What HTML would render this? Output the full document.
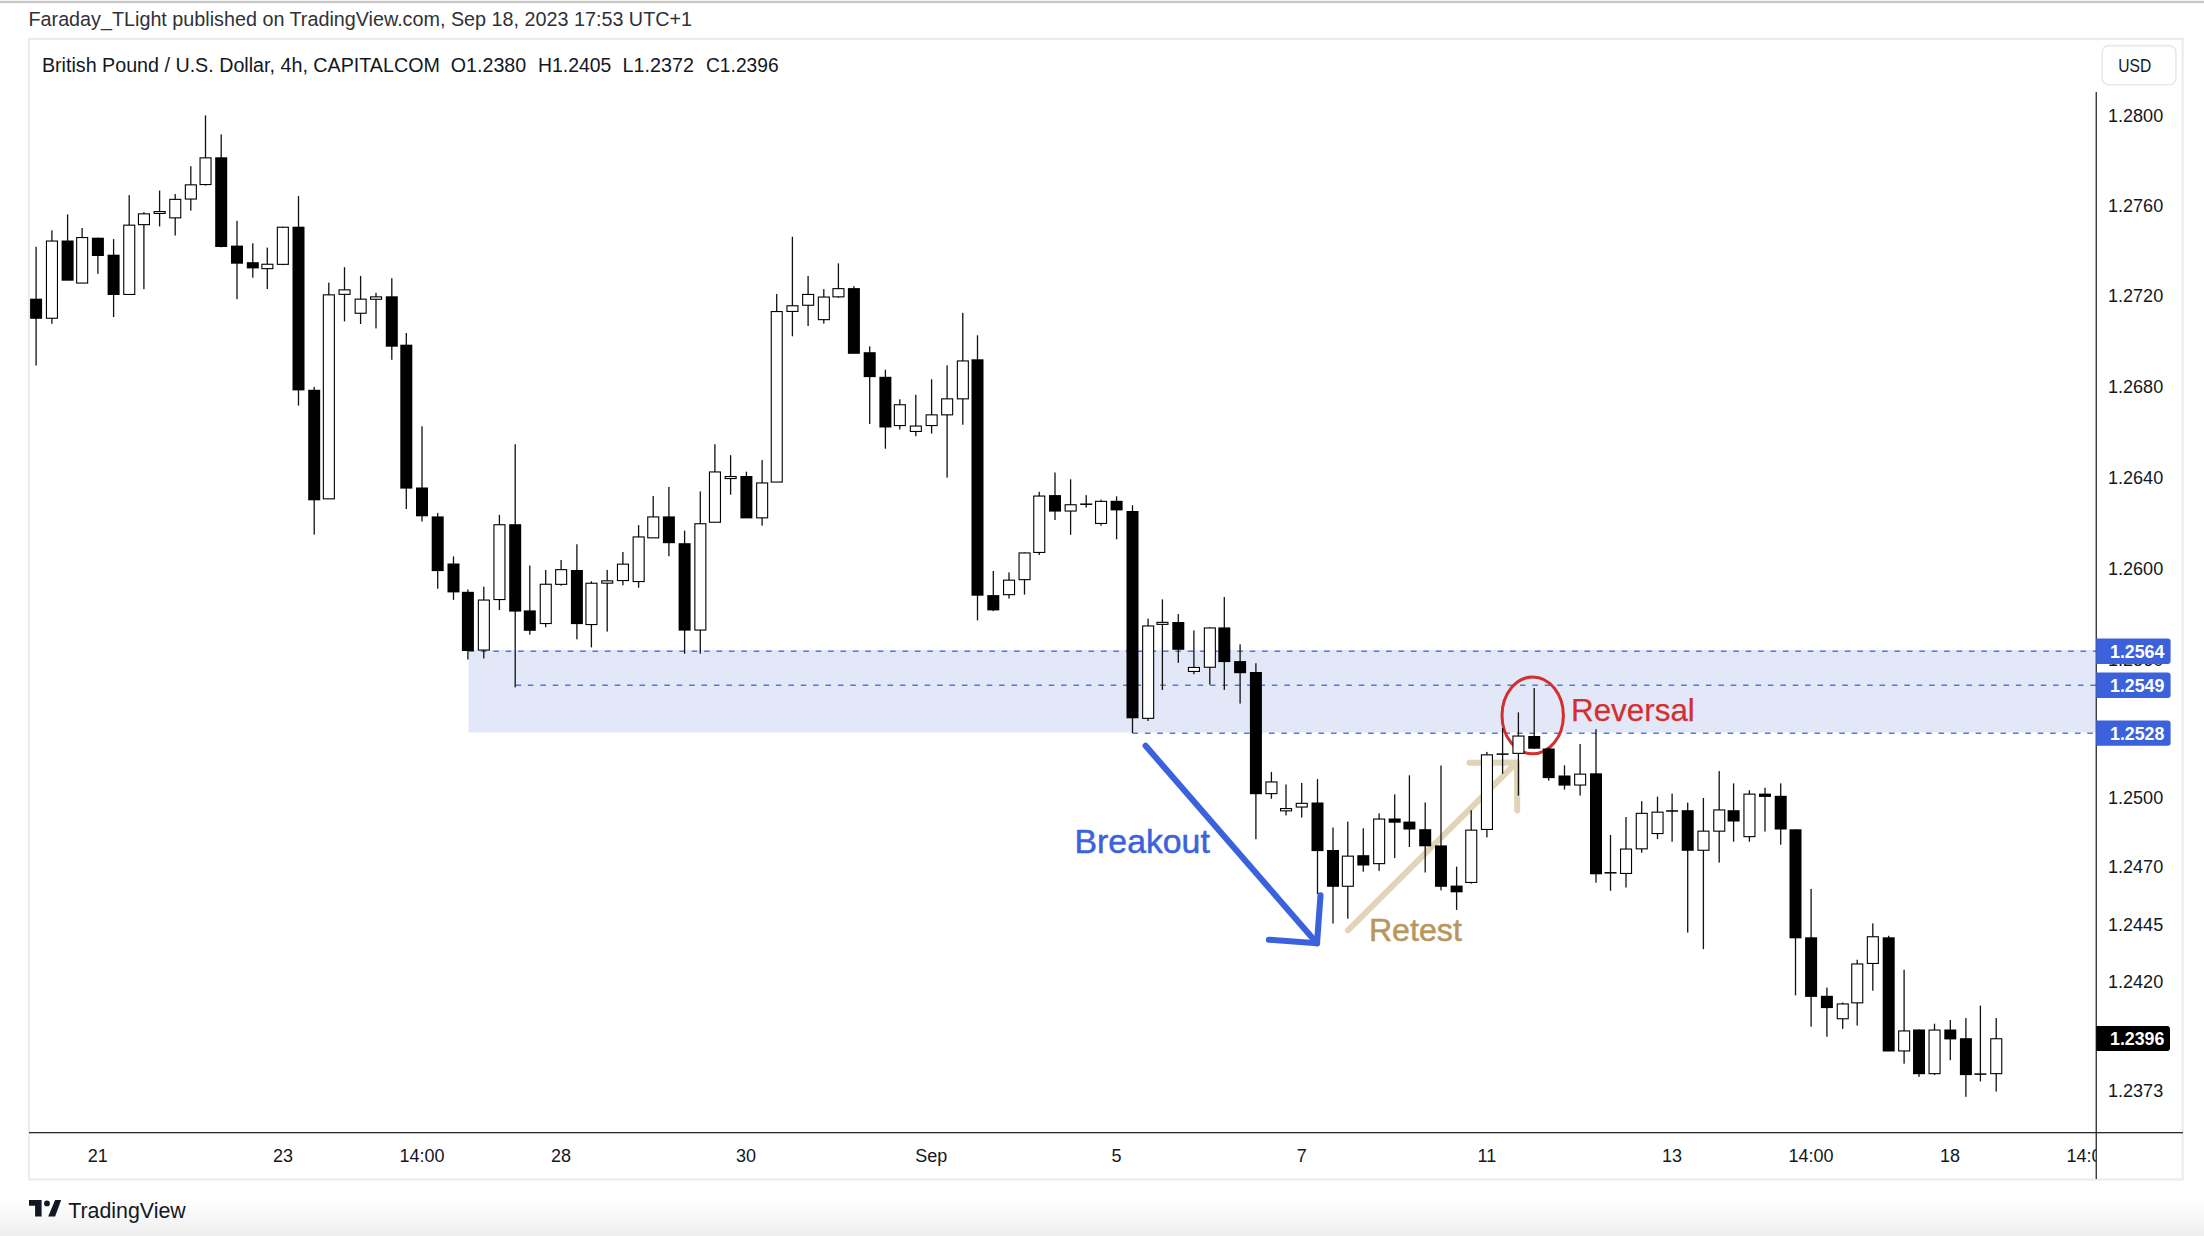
<!DOCTYPE html><html><head><meta charset="utf-8"><style>
html,body{margin:0;padding:0;background:#fff;width:2204px;height:1236px;overflow:hidden;}
svg{position:absolute;left:0;top:0;display:block;}
text{font-family:"Liberation Sans", sans-serif;}
</style></head><body>
<svg width="2204" height="1236" viewBox="0 0 2204 1236">
<defs><linearGradient id="bg" x1="0" y1="0" x2="0" y2="1"><stop offset="0" stop-color="#ffffff"/><stop offset="1" stop-color="#efefef"/></linearGradient></defs>
<rect x="0" y="1200" width="2204" height="36" fill="url(#bg)"/>
<rect x="0" y="0.8" width="2204" height="2.3" fill="#c8c8c8"/>
<text x="28.5" y="25.6" font-size="20.5" fill="#2f3137" textLength="663.5" lengthAdjust="spacingAndGlyphs">Faraday_TLight published on TradingView.com, Sep 18, 2023 17:53 UTC+1</text>
<rect x="29" y="38.9" width="2153.6" height="1140.6" fill="none" stroke="#eaecf1" stroke-width="2.2"/>
<rect x="468.5" y="650" width="1627" height="82.5" fill="#e2e8f7"/>
<line x1="468.5" y1="651.3" x2="2096" y2="651.3" stroke="#5078e6" stroke-width="1.5" stroke-dasharray="5.6 6.8"/>
<line x1="515.5" y1="685.2" x2="2096" y2="685.2" stroke="#5078e6" stroke-width="1.5" stroke-dasharray="5.6 6.8"/>
<line x1="1132.5" y1="733.2" x2="2096" y2="733.2" stroke="#5078e6" stroke-width="1.5" stroke-dasharray="5.6 6.8"/>
<g fill="none" stroke="#3b62dc" stroke-width="6.1" stroke-linecap="round" stroke-linejoin="round"><path d="M1145.6 745.8 L1317 943.3"/><path d="M1320.5 895.2 L1317 943.3 L1268.9 939.7"/></g>
<text x="1074.6" y="852.8" font-size="32.5" fill="#3b62dc" stroke="#3b62dc" stroke-width="0.5" textLength="135.2" lengthAdjust="spacingAndGlyphs">Breakout</text>
<g fill="none" stroke="#e2d4b9" stroke-width="6" stroke-linecap="round" stroke-linejoin="round"><path d="M1347.9 930.3 L1516.5 762.6"/><path d="M1469.4 762.8 L1517 762.4 L1517.2 810.5"/></g>
<text x="1368.9" y="940.8" font-size="31" fill="#b8965c" stroke="#b8965c" stroke-width="0.5" textLength="93" lengthAdjust="spacingAndGlyphs">Retest</text>
<ellipse cx="1532.7" cy="715.4" rx="30.7" ry="38.4" fill="none" stroke="#d32f2f" stroke-width="3"/>
<text x="1571" y="721.4" font-size="32" fill="#d32f2f" stroke="#d32f2f" stroke-width="0.25" textLength="123.8" lengthAdjust="spacingAndGlyphs">Reversal</text>
<g><rect x="35.45" y="246.80" width="1.3" height="118.70" fill="#111"/><rect x="30.10" y="298.70" width="12" height="20.10" fill="#000"/><rect x="51.25" y="230.30" width="1.3" height="93.50" fill="#111"/><rect x="46.45" y="241.05" width="11" height="77.20" fill="#fff" stroke="#000" stroke-width="1.1"/><rect x="66.95" y="214.40" width="1.3" height="65.70" fill="#111"/><rect x="61.60" y="240.50" width="12" height="40.20" fill="#000"/><rect x="81.45" y="228.00" width="1.3" height="55.00" fill="#111"/><rect x="76.65" y="237.55" width="11" height="45.50" fill="#fff" stroke="#000" stroke-width="1.1"/><rect x="97.25" y="237.70" width="1.3" height="36.10" fill="#111"/><rect x="91.90" y="237.70" width="12" height="18.30" fill="#000"/><rect x="112.95" y="239.10" width="1.3" height="77.90" fill="#111"/><rect x="107.60" y="254.70" width="12" height="40.30" fill="#000"/><rect x="128.55" y="195.10" width="1.3" height="99.30" fill="#111"/><rect x="123.75" y="225.15" width="11" height="69.30" fill="#fff" stroke="#000" stroke-width="1.1"/><rect x="143.25" y="212.10" width="1.3" height="77.10" fill="#111"/><rect x="138.45" y="213.85" width="11" height="10.80" fill="#fff" stroke="#000" stroke-width="1.1"/><rect x="158.95" y="190.60" width="1.3" height="35.80" fill="#111"/><rect x="154.15" y="211.55" width="11" height="1.90" fill="#fff" stroke="#000" stroke-width="1.1"/><rect x="174.55" y="194.00" width="1.3" height="41.50" fill="#111"/><rect x="169.75" y="199.35" width="11" height="18.50" fill="#fff" stroke="#000" stroke-width="1.1"/><rect x="190.15" y="166.20" width="1.3" height="44.40" fill="#111"/><rect x="185.35" y="184.85" width="11" height="14.20" fill="#fff" stroke="#000" stroke-width="1.1"/><rect x="204.85" y="115.40" width="1.3" height="70.20" fill="#111"/><rect x="200.05" y="157.85" width="11" height="26.70" fill="#fff" stroke="#000" stroke-width="1.1"/><rect x="220.55" y="134.40" width="1.3" height="112.90" fill="#111"/><rect x="215.20" y="157.30" width="12" height="89.70" fill="#000"/><rect x="236.35" y="220.80" width="1.3" height="78.40" fill="#111"/><rect x="231.00" y="245.60" width="12" height="18.10" fill="#000"/><rect x="252.15" y="243.30" width="1.3" height="34.40" fill="#111"/><rect x="246.80" y="262.20" width="12" height="6.20" fill="#000"/><rect x="266.65" y="247.60" width="1.3" height="41.40" fill="#111"/><rect x="261.85" y="264.25" width="11" height="4.40" fill="#fff" stroke="#000" stroke-width="1.1"/><rect x="282.15" y="226.70" width="1.3" height="38.40" fill="#111"/><rect x="277.35" y="227.25" width="11" height="37.10" fill="#fff" stroke="#000" stroke-width="1.1"/><rect x="297.85" y="196.10" width="1.3" height="209.50" fill="#111"/><rect x="292.50" y="226.70" width="12" height="163.70" fill="#000"/><rect x="313.55" y="386.90" width="1.3" height="147.70" fill="#111"/><rect x="308.20" y="389.80" width="12" height="110.50" fill="#000"/><rect x="328.15" y="282.60" width="1.3" height="216.20" fill="#111"/><rect x="323.35" y="294.85" width="11" height="204.00" fill="#fff" stroke="#000" stroke-width="1.1"/><rect x="343.85" y="267.20" width="1.3" height="54.20" fill="#111"/><rect x="339.05" y="289.85" width="11" height="4.50" fill="#fff" stroke="#000" stroke-width="1.1"/><rect x="359.95" y="275.90" width="1.3" height="48.10" fill="#111"/><rect x="355.15" y="299.15" width="11" height="14.10" fill="#fff" stroke="#000" stroke-width="1.1"/><rect x="375.35" y="292.80" width="1.3" height="35.60" fill="#111"/><rect x="370.55" y="296.85" width="11" height="2.40" fill="#fff" stroke="#000" stroke-width="1.1"/><rect x="391.15" y="278.20" width="1.3" height="81.60" fill="#111"/><rect x="385.80" y="296.30" width="12" height="50.40" fill="#000"/><rect x="405.65" y="333.00" width="1.3" height="176.00" fill="#111"/><rect x="400.30" y="344.70" width="12" height="143.90" fill="#000"/><rect x="421.35" y="426.30" width="1.3" height="95.20" fill="#111"/><rect x="416.00" y="487.50" width="12" height="28.80" fill="#000"/><rect x="437.05" y="512.90" width="1.3" height="75.80" fill="#111"/><rect x="431.70" y="516.40" width="12" height="54.70" fill="#000"/><rect x="452.85" y="556.40" width="1.3" height="43.50" fill="#111"/><rect x="447.50" y="563.50" width="12" height="28.90" fill="#000"/><rect x="467.25" y="589.40" width="1.3" height="70.10" fill="#111"/><rect x="461.90" y="591.80" width="12" height="59.20" fill="#000"/><rect x="483.15" y="586.70" width="1.3" height="71.80" fill="#111"/><rect x="478.35" y="600.05" width="11" height="50.00" fill="#fff" stroke="#000" stroke-width="1.1"/><rect x="498.75" y="514.90" width="1.3" height="95.10" fill="#111"/><rect x="493.95" y="524.75" width="11" height="74.80" fill="#fff" stroke="#000" stroke-width="1.1"/><rect x="514.55" y="444.20" width="1.3" height="243.20" fill="#111"/><rect x="509.20" y="524.20" width="12" height="87.40" fill="#000"/><rect x="529.15" y="565.50" width="1.3" height="69.20" fill="#111"/><rect x="523.80" y="610.40" width="12" height="20.40" fill="#000"/><rect x="545.05" y="570.00" width="1.3" height="57.20" fill="#111"/><rect x="540.25" y="584.25" width="11" height="39.30" fill="#fff" stroke="#000" stroke-width="1.1"/><rect x="560.45" y="560.00" width="1.3" height="25.70" fill="#111"/><rect x="555.65" y="569.65" width="11" height="14.70" fill="#fff" stroke="#000" stroke-width="1.1"/><rect x="576.25" y="544.30" width="1.3" height="95.00" fill="#111"/><rect x="570.90" y="570.00" width="12" height="54.10" fill="#000"/><rect x="590.75" y="581.30" width="1.3" height="66.10" fill="#111"/><rect x="585.95" y="583.25" width="11" height="41.30" fill="#fff" stroke="#000" stroke-width="1.1"/><rect x="606.55" y="569.90" width="1.3" height="61.70" fill="#111"/><rect x="601.75" y="580.85" width="11" height="2.30" fill="#fff" stroke="#000" stroke-width="1.1"/><rect x="622.25" y="552.00" width="1.3" height="33.30" fill="#111"/><rect x="617.45" y="564.15" width="11" height="16.40" fill="#fff" stroke="#000" stroke-width="1.1"/><rect x="637.95" y="525.10" width="1.3" height="62.60" fill="#111"/><rect x="633.15" y="536.95" width="11" height="44.60" fill="#fff" stroke="#000" stroke-width="1.1"/><rect x="652.55" y="496.00" width="1.3" height="41.80" fill="#111"/><rect x="647.75" y="516.95" width="11" height="20.90" fill="#fff" stroke="#000" stroke-width="1.1"/><rect x="668.25" y="486.90" width="1.3" height="69.30" fill="#111"/><rect x="662.90" y="516.40" width="12" height="26.80" fill="#000"/><rect x="683.95" y="530.60" width="1.3" height="123.10" fill="#111"/><rect x="678.60" y="543.20" width="12" height="87.40" fill="#000"/><rect x="699.65" y="491.40" width="1.3" height="162.30" fill="#111"/><rect x="694.85" y="523.75" width="11" height="106.30" fill="#fff" stroke="#000" stroke-width="1.1"/><rect x="714.25" y="444.20" width="1.3" height="78.00" fill="#111"/><rect x="709.45" y="471.95" width="11" height="50.30" fill="#fff" stroke="#000" stroke-width="1.1"/><rect x="729.95" y="455.20" width="1.3" height="39.50" fill="#111"/><rect x="725.15" y="476.55" width="11" height="2.00" fill="#fff" stroke="#000" stroke-width="1.1"/><rect x="745.75" y="471.70" width="1.3" height="46.10" fill="#111"/><rect x="740.40" y="476.00" width="12" height="42.40" fill="#000"/><rect x="761.45" y="460.10" width="1.3" height="65.60" fill="#111"/><rect x="756.65" y="482.95" width="11" height="34.90" fill="#fff" stroke="#000" stroke-width="1.1"/><rect x="776.05" y="293.90" width="1.3" height="188.10" fill="#111"/><rect x="771.25" y="311.55" width="11" height="170.50" fill="#fff" stroke="#000" stroke-width="1.1"/><rect x="791.75" y="236.70" width="1.3" height="99.60" fill="#111"/><rect x="786.95" y="305.75" width="11" height="5.70" fill="#fff" stroke="#000" stroke-width="1.1"/><rect x="807.45" y="275.90" width="1.3" height="50.10" fill="#111"/><rect x="802.65" y="294.45" width="11" height="10.80" fill="#fff" stroke="#000" stroke-width="1.1"/><rect x="823.15" y="289.10" width="1.3" height="34.50" fill="#111"/><rect x="818.35" y="297.05" width="11" height="22.60" fill="#fff" stroke="#000" stroke-width="1.1"/><rect x="837.75" y="263.40" width="1.3" height="34.40" fill="#111"/><rect x="832.95" y="288.65" width="11" height="8.20" fill="#fff" stroke="#000" stroke-width="1.1"/><rect x="853.25" y="286.20" width="1.3" height="67.00" fill="#111"/><rect x="847.90" y="288.10" width="12" height="65.70" fill="#000"/><rect x="869.05" y="346.40" width="1.3" height="77.60" fill="#111"/><rect x="863.70" y="352.20" width="12" height="24.90" fill="#000"/><rect x="884.75" y="369.70" width="1.3" height="79.00" fill="#111"/><rect x="879.40" y="376.80" width="12" height="50.70" fill="#000"/><rect x="899.15" y="399.30" width="1.3" height="30.20" fill="#111"/><rect x="894.35" y="404.75" width="11" height="20.80" fill="#fff" stroke="#000" stroke-width="1.1"/><rect x="915.15" y="394.80" width="1.3" height="41.40" fill="#111"/><rect x="910.35" y="426.05" width="11" height="5.40" fill="#fff" stroke="#000" stroke-width="1.1"/><rect x="930.95" y="379.30" width="1.3" height="54.20" fill="#111"/><rect x="926.15" y="414.85" width="11" height="10.70" fill="#fff" stroke="#000" stroke-width="1.1"/><rect x="946.45" y="365.40" width="1.3" height="112.20" fill="#111"/><rect x="941.65" y="398.85" width="11" height="16.00" fill="#fff" stroke="#000" stroke-width="1.1"/><rect x="962.15" y="312.80" width="1.3" height="111.90" fill="#111"/><rect x="957.35" y="360.95" width="11" height="37.90" fill="#fff" stroke="#000" stroke-width="1.1"/><rect x="976.85" y="335.30" width="1.3" height="285.10" fill="#111"/><rect x="971.50" y="359.30" width="12" height="236.40" fill="#000"/><rect x="992.65" y="571.00" width="1.3" height="40.10" fill="#111"/><rect x="987.30" y="595.10" width="12" height="15.30" fill="#000"/><rect x="1008.35" y="572.40" width="1.3" height="26.20" fill="#111"/><rect x="1003.55" y="580.15" width="11" height="14.50" fill="#fff" stroke="#000" stroke-width="1.1"/><rect x="1023.85" y="552.40" width="1.3" height="42.20" fill="#111"/><rect x="1019.05" y="552.95" width="11" height="26.70" fill="#fff" stroke="#000" stroke-width="1.1"/><rect x="1038.55" y="491.80" width="1.3" height="63.20" fill="#111"/><rect x="1033.75" y="496.05" width="11" height="56.40" fill="#fff" stroke="#000" stroke-width="1.1"/><rect x="1054.35" y="472.50" width="1.3" height="47.50" fill="#111"/><rect x="1049.00" y="495.10" width="12" height="16.50" fill="#000"/><rect x="1069.95" y="479.30" width="1.3" height="55.50" fill="#111"/><rect x="1065.15" y="504.75" width="11" height="6.30" fill="#fff" stroke="#000" stroke-width="1.1"/><rect x="1085.55" y="495.10" width="1.3" height="12.50" fill="#111"/><rect x="1080.20" y="503.45" width="12" height="1.5" fill="#000"/><rect x="1100.35" y="499.60" width="1.3" height="26.10" fill="#111"/><rect x="1095.55" y="501.35" width="11" height="22.10" fill="#fff" stroke="#000" stroke-width="1.1"/><rect x="1115.95" y="496.30" width="1.3" height="43.00" fill="#111"/><rect x="1110.60" y="500.80" width="12" height="9.60" fill="#000"/><rect x="1131.85" y="505.30" width="1.3" height="227.70" fill="#111"/><rect x="1126.50" y="511.00" width="12" height="207.30" fill="#000"/><rect x="1147.45" y="618.60" width="1.3" height="102.40" fill="#111"/><rect x="1142.65" y="625.95" width="11" height="92.40" fill="#fff" stroke="#000" stroke-width="1.1"/><rect x="1161.75" y="599.40" width="1.3" height="90.60" fill="#111"/><rect x="1156.95" y="622.35" width="11" height="2.00" fill="#fff" stroke="#000" stroke-width="1.1"/><rect x="1177.65" y="614.10" width="1.3" height="48.70" fill="#111"/><rect x="1172.30" y="622.00" width="12" height="27.80" fill="#000"/><rect x="1193.25" y="630.40" width="1.3" height="43.80" fill="#111"/><rect x="1188.45" y="667.45" width="11" height="4.00" fill="#fff" stroke="#000" stroke-width="1.1"/><rect x="1209.15" y="627.40" width="1.3" height="57.20" fill="#111"/><rect x="1204.35" y="627.95" width="11" height="39.30" fill="#fff" stroke="#000" stroke-width="1.1"/><rect x="1223.65" y="597.00" width="1.3" height="92.90" fill="#111"/><rect x="1218.30" y="627.40" width="12" height="34.70" fill="#000"/><rect x="1239.45" y="644.30" width="1.3" height="59.30" fill="#111"/><rect x="1234.10" y="661.10" width="12" height="12.10" fill="#000"/><rect x="1255.25" y="663.20" width="1.3" height="176.00" fill="#111"/><rect x="1249.90" y="672.00" width="12" height="122.20" fill="#000"/><rect x="1270.75" y="771.90" width="1.3" height="26.90" fill="#111"/><rect x="1265.95" y="781.95" width="11" height="11.70" fill="#fff" stroke="#000" stroke-width="1.1"/><rect x="1285.35" y="784.50" width="1.3" height="30.90" fill="#111"/><rect x="1280.55" y="808.55" width="11" height="2.30" fill="#fff" stroke="#000" stroke-width="1.1"/><rect x="1301.05" y="783.00" width="1.3" height="34.50" fill="#111"/><rect x="1296.25" y="803.35" width="11" height="3.70" fill="#fff" stroke="#000" stroke-width="1.1"/><rect x="1316.85" y="779.10" width="1.3" height="114.90" fill="#111"/><rect x="1311.50" y="802.50" width="12" height="48.60" fill="#000"/><rect x="1332.35" y="827.50" width="1.3" height="96.00" fill="#111"/><rect x="1327.00" y="850.00" width="12" height="36.80" fill="#000"/><rect x="1347.15" y="821.60" width="1.3" height="97.10" fill="#111"/><rect x="1342.35" y="856.15" width="11" height="30.10" fill="#fff" stroke="#000" stroke-width="1.1"/><rect x="1362.65" y="828.30" width="1.3" height="43.40" fill="#111"/><rect x="1357.30" y="855.20" width="12" height="10.30" fill="#000"/><rect x="1378.45" y="813.40" width="1.3" height="57.50" fill="#111"/><rect x="1373.65" y="819.05" width="11" height="44.60" fill="#fff" stroke="#000" stroke-width="1.1"/><rect x="1394.05" y="794.40" width="1.3" height="63.70" fill="#111"/><rect x="1388.70" y="818.50" width="12" height="4.20" fill="#000"/><rect x="1408.75" y="775.30" width="1.3" height="71.70" fill="#111"/><rect x="1403.40" y="821.60" width="12" height="7.90" fill="#000"/><rect x="1424.55" y="802.50" width="1.3" height="70.00" fill="#111"/><rect x="1419.20" y="829.20" width="12" height="17.10" fill="#000"/><rect x="1440.35" y="765.50" width="1.3" height="124.90" fill="#111"/><rect x="1435.00" y="845.40" width="12" height="41.40" fill="#000"/><rect x="1455.95" y="866.60" width="1.3" height="43.30" fill="#111"/><rect x="1450.60" y="885.60" width="12" height="6.70" fill="#000"/><rect x="1470.55" y="810.20" width="1.3" height="73.40" fill="#111"/><rect x="1465.75" y="830.15" width="11" height="52.30" fill="#fff" stroke="#000" stroke-width="1.1"/><rect x="1486.25" y="751.90" width="1.3" height="85.50" fill="#111"/><rect x="1481.45" y="754.85" width="11" height="74.60" fill="#fff" stroke="#000" stroke-width="1.1"/><rect x="1501.95" y="728.00" width="1.3" height="45.80" fill="#111"/><rect x="1496.60" y="753.35" width="12" height="1.5" fill="#000"/><rect x="1517.75" y="712.40" width="1.3" height="83.20" fill="#111"/><rect x="1512.95" y="736.05" width="11" height="17.30" fill="#fff" stroke="#000" stroke-width="1.1"/><rect x="1533.55" y="688.00" width="1.3" height="61.00" fill="#111"/><rect x="1528.20" y="736.00" width="12" height="12.70" fill="#000"/><rect x="1548.05" y="747.80" width="1.3" height="32.90" fill="#111"/><rect x="1542.70" y="748.50" width="12" height="29.60" fill="#000"/><rect x="1563.85" y="765.30" width="1.3" height="24.30" fill="#111"/><rect x="1558.50" y="775.50" width="12" height="10.10" fill="#000"/><rect x="1579.45" y="744.00" width="1.3" height="51.60" fill="#111"/><rect x="1574.65" y="774.15" width="11" height="10.90" fill="#fff" stroke="#000" stroke-width="1.1"/><rect x="1595.35" y="729.20" width="1.3" height="153.50" fill="#111"/><rect x="1590.00" y="773.30" width="12" height="101.00" fill="#000"/><rect x="1609.85" y="835.00" width="1.3" height="55.80" fill="#111"/><rect x="1604.50" y="872.05" width="12" height="1.5" fill="#000"/><rect x="1625.35" y="817.00" width="1.3" height="70.50" fill="#111"/><rect x="1620.55" y="849.05" width="11" height="24.40" fill="#fff" stroke="#000" stroke-width="1.1"/><rect x="1641.05" y="801.20" width="1.3" height="51.50" fill="#111"/><rect x="1636.25" y="813.35" width="11" height="35.50" fill="#fff" stroke="#000" stroke-width="1.1"/><rect x="1656.85" y="796.60" width="1.3" height="42.50" fill="#111"/><rect x="1652.05" y="812.15" width="11" height="21.40" fill="#fff" stroke="#000" stroke-width="1.1"/><rect x="1671.45" y="793.60" width="1.3" height="48.10" fill="#111"/><rect x="1666.10" y="810.25" width="12" height="1.5" fill="#000"/><rect x="1687.05" y="802.60" width="1.3" height="130.00" fill="#111"/><rect x="1681.70" y="810.20" width="12" height="40.60" fill="#000"/><rect x="1702.75" y="798.00" width="1.3" height="151.10" fill="#111"/><rect x="1697.95" y="831.15" width="11" height="19.10" fill="#fff" stroke="#000" stroke-width="1.1"/><rect x="1718.55" y="771.10" width="1.3" height="91.50" fill="#111"/><rect x="1713.75" y="809.95" width="11" height="21.20" fill="#fff" stroke="#000" stroke-width="1.1"/><rect x="1732.95" y="783.40" width="1.3" height="58.30" fill="#111"/><rect x="1727.60" y="810.20" width="12" height="11.30" fill="#000"/><rect x="1748.75" y="790.20" width="1.3" height="51.50" fill="#111"/><rect x="1743.95" y="794.15" width="11" height="42.50" fill="#fff" stroke="#000" stroke-width="1.1"/><rect x="1764.35" y="787.80" width="1.3" height="43.70" fill="#111"/><rect x="1759.00" y="793.60" width="12" height="3.30" fill="#000"/><rect x="1780.05" y="783.40" width="1.3" height="61.30" fill="#111"/><rect x="1774.70" y="795.80" width="12" height="33.70" fill="#000"/><rect x="1794.85" y="829.30" width="1.3" height="166.10" fill="#111"/><rect x="1789.50" y="829.30" width="12" height="109.00" fill="#000"/><rect x="1810.45" y="888.90" width="1.3" height="137.80" fill="#111"/><rect x="1805.10" y="937.30" width="12" height="59.60" fill="#000"/><rect x="1826.25" y="987.60" width="1.3" height="49.10" fill="#111"/><rect x="1820.90" y="995.80" width="12" height="12.30" fill="#000"/><rect x="1842.05" y="1002.50" width="1.3" height="26.40" fill="#111"/><rect x="1837.25" y="1003.95" width="11" height="14.80" fill="#fff" stroke="#000" stroke-width="1.1"/><rect x="1856.55" y="959.70" width="1.3" height="65.80" fill="#111"/><rect x="1851.75" y="963.95" width="11" height="38.90" fill="#fff" stroke="#000" stroke-width="1.1"/><rect x="1872.15" y="923.40" width="1.3" height="67.30" fill="#111"/><rect x="1867.35" y="936.75" width="11" height="26.70" fill="#fff" stroke="#000" stroke-width="1.1"/><rect x="1888.05" y="935.80" width="1.3" height="115.10" fill="#111"/><rect x="1882.70" y="937.30" width="12" height="114.20" fill="#000"/><rect x="1903.45" y="969.70" width="1.3" height="94.00" fill="#111"/><rect x="1898.65" y="1030.95" width="11" height="20.00" fill="#fff" stroke="#000" stroke-width="1.1"/><rect x="1918.35" y="1029.50" width="1.3" height="47.40" fill="#111"/><rect x="1913.00" y="1029.50" width="12" height="44.70" fill="#000"/><rect x="1933.85" y="1023.70" width="1.3" height="51.30" fill="#111"/><rect x="1929.05" y="1030.05" width="11" height="43.60" fill="#fff" stroke="#000" stroke-width="1.1"/><rect x="1949.65" y="1020.00" width="1.3" height="40.20" fill="#111"/><rect x="1944.30" y="1029.50" width="12" height="9.90" fill="#000"/><rect x="1965.25" y="1018.10" width="1.3" height="78.70" fill="#111"/><rect x="1959.90" y="1038.20" width="12" height="36.90" fill="#000"/><rect x="1979.75" y="1005.60" width="1.3" height="75.80" fill="#111"/><rect x="1974.40" y="1073.35" width="12" height="1.5" fill="#000"/><rect x="1995.55" y="1018.10" width="1.3" height="73.50" fill="#111"/><rect x="1990.75" y="1038.75" width="11" height="34.90" fill="#fff" stroke="#000" stroke-width="1.1"/></g>
<rect x="2095.6" y="92" width="1.3" height="1087" fill="#2a2a2a"/>
<rect x="29" y="1132" width="2154" height="1.3" fill="#2a2a2a"/>
<text x="2108" y="121.8" font-size="18" fill="#131722" textLength="55.2" lengthAdjust="spacingAndGlyphs">1.2800</text>
<text x="2108" y="211.8" font-size="18" fill="#131722" textLength="55.2" lengthAdjust="spacingAndGlyphs">1.2760</text>
<text x="2108" y="302.1" font-size="18" fill="#131722" textLength="55.2" lengthAdjust="spacingAndGlyphs">1.2720</text>
<text x="2108" y="392.6" font-size="18" fill="#131722" textLength="55.2" lengthAdjust="spacingAndGlyphs">1.2680</text>
<text x="2108" y="483.5" font-size="18" fill="#131722" textLength="55.2" lengthAdjust="spacingAndGlyphs">1.2640</text>
<text x="2108" y="574.6" font-size="18" fill="#131722" textLength="55.2" lengthAdjust="spacingAndGlyphs">1.2600</text>
<text x="2108" y="803.7" font-size="18" fill="#131722" textLength="55.2" lengthAdjust="spacingAndGlyphs">1.2500</text>
<text x="2108" y="872.8" font-size="18" fill="#131722" textLength="55.2" lengthAdjust="spacingAndGlyphs">1.2470</text>
<text x="2108" y="930.5" font-size="18" fill="#131722" textLength="55.2" lengthAdjust="spacingAndGlyphs">1.2445</text>
<text x="2108" y="988.4" font-size="18" fill="#131722" textLength="55.2" lengthAdjust="spacingAndGlyphs">1.2420</text>
<text x="2108" y="1097.4" font-size="18" fill="#131722" textLength="55.2" lengthAdjust="spacingAndGlyphs">1.2373</text>
<text x="97.8" y="1161.7" font-size="18" fill="#131722" text-anchor="middle">21</text>
<text x="283.0" y="1161.7" font-size="18" fill="#131722" text-anchor="middle">23</text>
<text x="421.9" y="1161.7" font-size="18" fill="#131722" text-anchor="middle">14:00</text>
<text x="560.9" y="1161.7" font-size="18" fill="#131722" text-anchor="middle">28</text>
<text x="746.1" y="1161.7" font-size="18" fill="#131722" text-anchor="middle">30</text>
<text x="931.3" y="1161.7" font-size="18" fill="#131722" text-anchor="middle">Sep</text>
<text x="1116.5" y="1161.7" font-size="18" fill="#131722" text-anchor="middle">5</text>
<text x="1301.7" y="1161.7" font-size="18" fill="#131722" text-anchor="middle">7</text>
<text x="1486.9" y="1161.7" font-size="18" fill="#131722" text-anchor="middle">11</text>
<text x="1672.1" y="1161.7" font-size="18" fill="#131722" text-anchor="middle">13</text>
<text x="1811.0" y="1161.7" font-size="18" fill="#131722" text-anchor="middle">14:00</text>
<text x="1949.9" y="1161.7" font-size="18" fill="#131722" text-anchor="middle">18</text>
<svg x="0" y="1135" width="2096" height="40"><text x="2089" y="26.7" font-size="18" fill="#131722" text-anchor="middle">14:00</text></svg>
<rect x="2102.2" y="45.6" width="73.7" height="39.2" rx="6.5" fill="#fff" stroke="#e6e9ef" stroke-width="1.6"/>
<text x="2118.2" y="72.2" font-size="19" fill="#131722" textLength="33" lengthAdjust="spacingAndGlyphs">USD</text>
<text x="41.9" y="71.7" font-size="20" fill="#131722" textLength="398" lengthAdjust="spacingAndGlyphs">British Pound / U.S. Dollar, 4h, CAPITALCOM</text>
<text x="450.8" y="71.7" font-size="20" fill="#131722" textLength="75.4" lengthAdjust="spacingAndGlyphs">O1.2380</text>
<text x="538.0" y="71.7" font-size="20" fill="#131722" textLength="73.3" lengthAdjust="spacingAndGlyphs">H1.2405</text>
<text x="622.6" y="71.7" font-size="20" fill="#131722" textLength="71.3" lengthAdjust="spacingAndGlyphs">L1.2372</text>
<text x="706.0" y="71.7" font-size="20" fill="#131722" textLength="72.6" lengthAdjust="spacingAndGlyphs">C1.2396</text>
<text x="2108" y="665.8" font-size="18" fill="#131722" textLength="55.2" lengthAdjust="spacingAndGlyphs">1.2560</text>
<path d="M2096.2 638.4 H2167.6 a3 3 0 0 1 3 3 V661.0 a3 3 0 0 1 -3 3 H2096.2 Z" fill="#3b62dc"/>
<text x="2110" y="657.8" font-size="18" font-weight="bold" fill="#fff" textLength="54.4" lengthAdjust="spacingAndGlyphs">1.2564</text>
<path d="M2096.2 672.4 H2167.6 a3 3 0 0 1 3 3 V695.0 a3 3 0 0 1 -3 3 H2096.2 Z" fill="#3b62dc"/>
<text x="2110" y="691.8" font-size="18" font-weight="bold" fill="#fff" textLength="54.4" lengthAdjust="spacingAndGlyphs">1.2549</text>
<path d="M2096.2 720.5 H2167.6 a3 3 0 0 1 3 3 V742.8 a3 3 0 0 1 -3 3 H2096.2 Z" fill="#3b62dc"/>
<text x="2110" y="739.8" font-size="18" font-weight="bold" fill="#fff" textLength="54.4" lengthAdjust="spacingAndGlyphs">1.2528</text>
<path d="M2096.2 1026 H2167 a3 3 0 0 1 3 3 V1048 a3 3 0 0 1 -3 3 H2096.2 Z" fill="#000"/>
<text x="2110" y="1045.3" font-size="18" font-weight="bold" fill="#fff" textLength="54.4" lengthAdjust="spacingAndGlyphs">1.2396</text>
<g fill="#131722"><path d="M29 1200.1 H41.6 V1216.4 H35.1 V1205.8 H29 Z"/><circle cx="47" cy="1203.4" r="2.9"/><path d="M55.1 1200.1 H61.2 L55.1 1216.4 H48.2 Z"/></g>
<text x="68.2" y="1217.7" font-size="22" fill="#131722" textLength="117.6" lengthAdjust="spacingAndGlyphs">TradingView</text>
</svg></body></html>
